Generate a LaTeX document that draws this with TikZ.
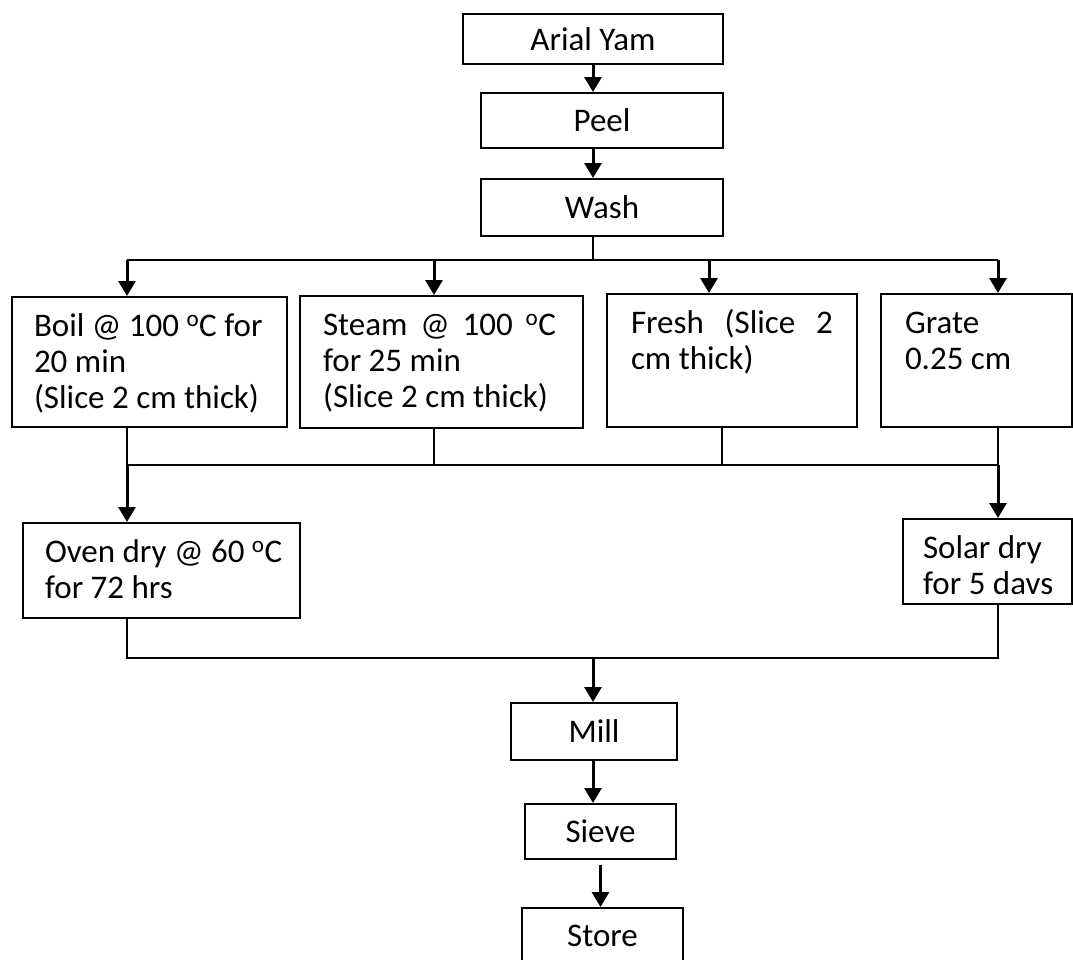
\documentclass[tikz,border=0pt]{standalone}
\usepackage{fontspec}
\setmainfont{Carlito}
\usetikzlibrary{arrows.meta, positioning, calc}

\begin{document}
\begin{tikzpicture}[x=1pt, y=-1pt,
    every node/.style={font=\fontsize{33}{36}\selectfont},
    proc/.style={draw, line width=2pt, anchor=north west, inner sep=0pt,
                 text height=24pt, text depth=2pt},
    note/.style={draw, line width=2pt, anchor=north west, inner ysep=15pt,
                 text height=24pt, align=flush left},
    line/.style={line width=2pt},
    arrow/.style={-{Triangle[length=15pt, width=17pt]}, line width=3pt}
]
\useasboundingbox (0,0) rectangle (1073,959);

% main line
\node[proc, minimum width=260pt, minimum height=50pt] (yam)   at (462,13)  {Arial Yam};
\node[proc, minimum width=242pt, minimum height=55pt] (peel)  at (480,92)  {Peel};
\node[proc, minimum width=242pt, minimum height=57pt] (wash)  at (480,178) {Wash};

% treatments
\node[note, inner xsep=22pt, text width=231pt, text depth=76pt] (boil)  at (11,296)
    {\mbox{Boil @ 100 \textsuperscript{o}C for}\\\mbox{20 min}\\\mbox{(Slice 2 cm thick)}};
\node[note, inner xsep=23pt, text width=237pt, text depth=78pt] (steam) at (299,295)
    {\makebox[233pt][s]{Steam @ 100 \textsuperscript{o}C}\\\mbox{for 25 min}\\\mbox{(Slice 2 cm thick)}};
\node[note, inner xsep=24pt, text width=202pt, text depth=79pt] (fresh) at (606,293)
    {\makebox[202pt][s]{Fresh (Slice 2}\\\mbox{cm thick)}};
\node[note, inner xsep=24pt, text width=143pt, text depth=79pt] (grate) at (880,293)
    {Grate\\\mbox{0.25 cm}};

% drying
\node[note, inner xsep=22pt, text width=233pt, text depth=41pt] (oven)  at (22,522)
    {\mbox{Oven dry @ 60 \textsuperscript{o}C}\\\mbox{for 72 hrs}};
\node[note, inner xsep=20pt, text width=129pt, text depth=31pt] (solar) at (902,518)
    {\mbox{Solar dry}\\\mbox{for 5 davs}};

% finishing
\node[proc, minimum width=166pt, minimum height=57pt] (mill)  at (510,702) {Mill};
\node[proc, minimum width=151pt, minimum height=55pt] (sieve) at (524,803) {Sieve};
\node[proc, minimum width=161pt, minimum height=54pt] (store) at (521,907) {Store};

% junctions
\coordinate (split)   at (593,260);
\coordinate (toboil)  at (127,260);
\coordinate (tosteam) at (434,260);
\coordinate (tofresh) at (709,260);
\coordinate (tograte) at (998,260);
\coordinate (joinA)   at (127,465);
\coordinate (joinB)   at (998,465);
\coordinate (dryA)    at (127,658);
\coordinate (dryB)    at (998,658);

\draw[arrow] (yam.south) -- (yam.south |- peel.north);
\draw[arrow] (yam.south |- peel.south) -- (yam.south |- wash.north);
\draw[line] (split |- wash.south) -- (split);
\draw[line] (toboil) -- (tograte);
\draw[arrow] (toboil)  -- (toboil |- boil.north);
\draw[arrow] (tosteam) -- (tosteam |- steam.north);
\draw[arrow] (tofresh) -- (tofresh |- fresh.north);
\draw[arrow] (tograte) -- (tograte |- grate.north);

\draw[line] (boil.south -| joinA) -- (joinA) -- (joinB);
\draw[line] (steam.south -| tosteam) -- (tosteam |- joinA);
\draw[line] (fresh.south -| 722,0) -- (722,465);
\draw[line] (grate.south -| joinB) -- (joinB);
\draw[arrow] (joinA) -- (joinA |- oven.north);
\draw[arrow] (joinB) -- (joinB |- solar.north);

\draw[line] (oven.south -| dryA) -- (dryA) -- (dryB) -- (solar.south -| dryB);
\draw[arrow] (split |- dryA) -- (split |- mill.north);
\draw[arrow] (split |- mill.south) -- (split |- sieve.north);
\draw[arrow] ([yshift=-5pt]sieve.south) -- (sieve.south |- store.north);
\end{tikzpicture}
\end{document}
